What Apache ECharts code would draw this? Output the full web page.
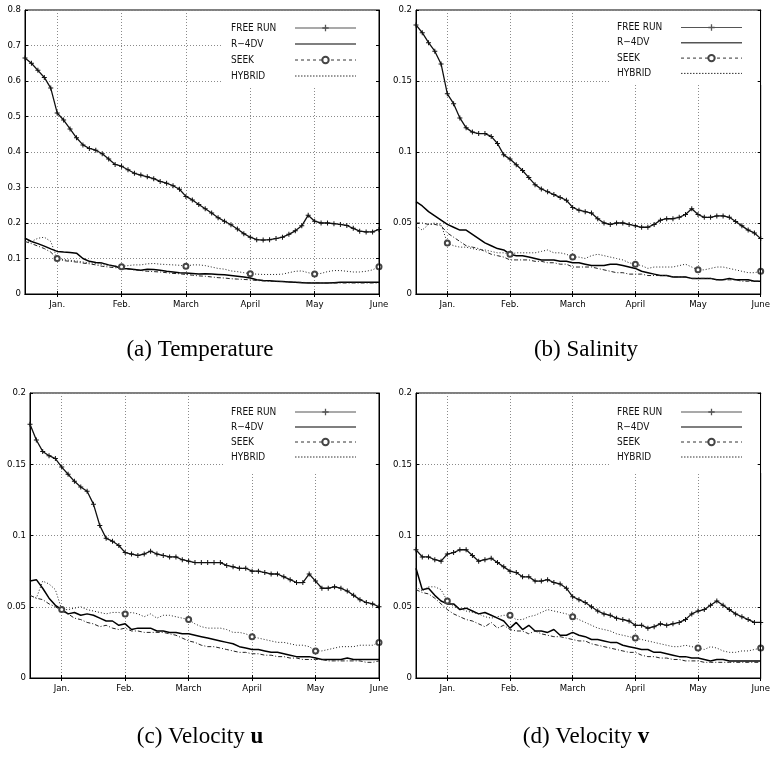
<!DOCTYPE html>
<html>
<head>
<meta charset="utf-8">
<script src="https://cdn.jsdelivr.net/npm/echarts@6/dist/echarts.min.js"></script>
<style>
html, body { margin: 0; padding: 0; background: #fff; }
#main { width: 773px; height: 761px; }
</style>
</head>
<body>
<div id="main"></div>
<script>
// sample positions, in months (1 = Jan. ... 6 = June)
const xs = [0.5, 0.6, 0.7, 0.8, 0.9, 1, 1.1, 1.2, 1.3, 1.4, 1.5, 1.6, 1.7, 1.8, 1.9,
  2, 2.1, 2.2, 2.3, 2.4, 2.5, 2.6, 2.7, 2.8, 2.9, 3, 3.1, 3.2, 3.3, 3.4, 3.5, 3.6, 3.7, 3.8, 3.9,
  4, 4.1, 4.2, 4.3, 4.4, 4.5, 4.6, 4.7, 4.8, 4.9, 5, 5.1, 5.2, 5.3, 5.4, 5.5, 5.6, 5.7, 5.8, 5.9, 6];
const monthTicks = [1, 2, 3, 4, 5, 6];
const monthLabels = ['Jan.', 'Feb.', 'March', 'April', 'May', 'June'];
const seriesNames = ['FREE RUN', 'R\u22124DV', 'SEEK', 'HYBRID'];

// (a) Temperature
const tempFree = [0.665, 0.65, 0.63, 0.61, 0.58, 0.51, 0.49, 0.465, 0.44, 0.42, 0.41, 0.405, 0.395, 0.38, 0.365,
  0.36, 0.35, 0.34, 0.335, 0.33, 0.325, 0.317, 0.312, 0.305, 0.295, 0.275, 0.265, 0.252, 0.24, 0.228, 0.215, 0.205, 0.195, 0.183, 0.17,
  0.16, 0.153, 0.152, 0.153, 0.156, 0.16, 0.168, 0.178, 0.192, 0.222, 0.205, 0.2, 0.2, 0.198, 0.196, 0.193, 0.185, 0.177, 0.175, 0.175, 0.182];
const tempR4dv = [0.157, 0.148, 0.142, 0.135, 0.127, 0.12, 0.118, 0.117, 0.115, 0.1, 0.092, 0.089, 0.087, 0.082, 0.078,
  0.072, 0.071, 0.069, 0.067, 0.07, 0.069, 0.067, 0.064, 0.062, 0.06, 0.059, 0.058, 0.056, 0.057, 0.056, 0.055, 0.054, 0.052, 0.05, 0.048,
  0.045, 0.04, 0.038, 0.037, 0.036, 0.035, 0.034, 0.033, 0.032, 0.031, 0.031, 0.031, 0.031, 0.032, 0.033, 0.033, 0.033, 0.033, 0.033, 0.033, 0.033];
const tempSeek = [0.145, 0.148, 0.157, 0.16, 0.148, 0.1, 0.097, 0.095, 0.093, 0.09, 0.088, 0.086, 0.083, 0.08, 0.079,
  0.077, 0.08, 0.082, 0.082, 0.085, 0.086, 0.084, 0.083, 0.082, 0.081, 0.078, 0.082, 0.082, 0.08, 0.076, 0.072, 0.07, 0.065, 0.063, 0.06,
  0.057, 0.056, 0.055, 0.055, 0.055, 0.056, 0.06, 0.064, 0.065, 0.06, 0.056, 0.058, 0.063, 0.066, 0.066, 0.064, 0.062, 0.062, 0.064, 0.068, 0.077];
const tempHybrid = [0.148, 0.142, 0.135, 0.128, 0.118, 0.1, 0.094, 0.092, 0.09, 0.087, 0.085, 0.082, 0.078, 0.076, 0.074,
  0.072, 0.07, 0.068, 0.066, 0.064, 0.063, 0.062, 0.06, 0.058, 0.057, 0.055, 0.053, 0.051, 0.05, 0.048, 0.046, 0.045, 0.043, 0.042, 0.041,
  0.04, 0.038, 0.037, 0.036, 0.035, 0.035, 0.034, 0.033, 0.033, 0.032, 0.032, 0.031, 0.031, 0.031, 0.031, 0.031, 0.031, 0.031, 0.031, 0.031, 0.031];

// (b) Salinity
const salFree = [0.1895, 0.184, 0.177, 0.171, 0.162, 0.141, 0.134, 0.124, 0.117, 0.114, 0.113, 0.113, 0.111, 0.106, 0.098,
  0.095, 0.091, 0.087, 0.082, 0.077, 0.074, 0.072, 0.07, 0.068, 0.066, 0.061, 0.059, 0.058, 0.057, 0.053, 0.05, 0.049, 0.05, 0.05, 0.049,
  0.048, 0.047, 0.047, 0.049, 0.052, 0.053, 0.053, 0.054, 0.056, 0.06, 0.056, 0.054, 0.054, 0.055, 0.055, 0.054, 0.051, 0.048, 0.045, 0.043, 0.039];
const salR4dv = [0.065, 0.062, 0.058, 0.055, 0.052, 0.049, 0.047, 0.045, 0.045, 0.042, 0.039, 0.036, 0.034, 0.032, 0.031,
  0.028, 0.027, 0.027, 0.026, 0.025, 0.024, 0.024, 0.024, 0.023, 0.023, 0.022, 0.022, 0.021, 0.02, 0.02, 0.02, 0.021, 0.021, 0.02, 0.019,
  0.018, 0.016, 0.015, 0.014, 0.013, 0.013, 0.012, 0.012, 0.012, 0.011, 0.011, 0.011, 0.011, 0.01, 0.01, 0.011, 0.01, 0.01, 0.01, 0.009, 0.009];
const salSeek = [0.048, 0.045, 0.049, 0.05, 0.049, 0.036, 0.034, 0.033, 0.033, 0.032, 0.031, 0.031, 0.03, 0.029, 0.029,
  0.028, 0.029, 0.029, 0.029, 0.029, 0.03, 0.031, 0.029, 0.029, 0.028, 0.026, 0.026, 0.025, 0.027, 0.028, 0.027, 0.026, 0.025, 0.024, 0.022,
  0.021, 0.02, 0.018, 0.019, 0.019, 0.019, 0.019, 0.02, 0.021, 0.019, 0.017, 0.017, 0.018, 0.019, 0.019, 0.018, 0.017, 0.016, 0.015, 0.015, 0.016];
const salHybrid = [0.05, 0.05, 0.049, 0.049, 0.048, 0.043, 0.04, 0.037, 0.034, 0.033, 0.032, 0.03, 0.028, 0.027, 0.026,
  0.024, 0.024, 0.024, 0.024, 0.023, 0.023, 0.022, 0.022, 0.021, 0.021, 0.019, 0.019, 0.019, 0.019, 0.018, 0.017, 0.016, 0.015, 0.015, 0.014,
  0.014, 0.014, 0.013, 0.013, 0.013, 0.013, 0.012, 0.012, 0.012, 0.011, 0.011, 0.011, 0.011, 0.01, 0.01, 0.01, 0.01, 0.009, 0.009, 0.009, 0.009];

// (c) Velocity u
const uFree = [0.178, 0.167, 0.159, 0.156, 0.154, 0.148, 0.143, 0.138, 0.134, 0.131, 0.122, 0.107, 0.098, 0.096, 0.093,
  0.088, 0.087, 0.086, 0.087, 0.089, 0.087, 0.086, 0.085, 0.085, 0.083, 0.082, 0.081, 0.081, 0.081, 0.081, 0.081, 0.079, 0.078, 0.077, 0.077,
  0.075, 0.075, 0.074, 0.073, 0.073, 0.071, 0.069, 0.067, 0.067, 0.073, 0.068, 0.063, 0.063, 0.064, 0.063, 0.061, 0.058, 0.055, 0.053, 0.052, 0.05];
const uR4dv = [0.068, 0.069, 0.063, 0.056, 0.051, 0.048, 0.045, 0.046, 0.044, 0.045, 0.044, 0.042, 0.04, 0.04, 0.037,
  0.038, 0.034, 0.035, 0.035, 0.035, 0.033, 0.033, 0.032, 0.032, 0.031, 0.031, 0.03, 0.029, 0.028, 0.027, 0.026, 0.025, 0.024, 0.022, 0.021,
  0.02, 0.02, 0.019, 0.018, 0.018, 0.017, 0.016, 0.015, 0.015, 0.015, 0.014, 0.013, 0.013, 0.013, 0.013, 0.014, 0.013, 0.013, 0.013, 0.013, 0.013];
const uSeek = [0.058, 0.056, 0.068, 0.066, 0.062, 0.048, 0.048, 0.049, 0.05, 0.048, 0.047, 0.046, 0.045, 0.046, 0.046,
  0.045, 0.046, 0.045, 0.043, 0.045, 0.042, 0.044, 0.044, 0.043, 0.042, 0.041, 0.038, 0.036, 0.035, 0.035, 0.035, 0.034, 0.032, 0.032, 0.031,
  0.029, 0.028, 0.027, 0.026, 0.025, 0.025, 0.024, 0.023, 0.023, 0.022, 0.019, 0.019, 0.02, 0.021, 0.022, 0.022, 0.022, 0.023, 0.023, 0.023, 0.025];
const uHybrid = [0.058, 0.056, 0.055, 0.052, 0.05, 0.047, 0.045, 0.042, 0.041, 0.039, 0.038, 0.036, 0.037, 0.035, 0.034,
  0.035, 0.033, 0.033, 0.032, 0.032, 0.032, 0.032, 0.031, 0.03, 0.028, 0.026, 0.025, 0.023, 0.022, 0.022, 0.021, 0.02, 0.019, 0.018, 0.018,
  0.017, 0.017, 0.016, 0.016, 0.015, 0.015, 0.014, 0.014, 0.013, 0.013, 0.013, 0.013, 0.012, 0.012, 0.012, 0.012, 0.012, 0.012, 0.011, 0.011, 0.012];

// (d) Velocity v
const vFree = [0.09, 0.085, 0.085, 0.083, 0.082, 0.087, 0.088, 0.09, 0.09, 0.086, 0.082, 0.083, 0.084, 0.081, 0.078,
  0.075, 0.074, 0.071, 0.071, 0.068, 0.068, 0.069, 0.067, 0.066, 0.063, 0.057, 0.055, 0.053, 0.05, 0.047, 0.045, 0.044, 0.042, 0.041, 0.04,
  0.037, 0.037, 0.035, 0.036, 0.038, 0.037, 0.038, 0.039, 0.041, 0.045, 0.047, 0.048, 0.051, 0.054, 0.051, 0.048, 0.045, 0.043, 0.041, 0.039, 0.039];
const vR4dv = [0.077, 0.062, 0.063, 0.058, 0.054, 0.052, 0.052, 0.048, 0.049, 0.047, 0.045, 0.046, 0.044, 0.042, 0.04,
  0.035, 0.039, 0.034, 0.037, 0.033, 0.033, 0.032, 0.034, 0.03, 0.03, 0.032, 0.03, 0.029, 0.027, 0.027, 0.026, 0.025, 0.025, 0.023, 0.022,
  0.021, 0.02, 0.02, 0.018, 0.018, 0.017, 0.016, 0.015, 0.015, 0.014, 0.014, 0.013, 0.012, 0.013, 0.013, 0.012, 0.012, 0.012, 0.012, 0.012, 0.012];
const vSeek = [0.064, 0.061, 0.064, 0.064, 0.062, 0.054, 0.05, 0.049, 0.047, 0.046, 0.045, 0.043, 0.042, 0.043, 0.044,
  0.044, 0.041, 0.041, 0.043, 0.044, 0.046, 0.048, 0.047, 0.046, 0.045, 0.043, 0.041, 0.039, 0.037, 0.035, 0.034, 0.033, 0.031, 0.03, 0.029,
  0.028, 0.027, 0.026, 0.025, 0.024, 0.023, 0.022, 0.022, 0.023, 0.022, 0.021, 0.02, 0.022, 0.021, 0.019, 0.018, 0.018, 0.019, 0.019, 0.02, 0.021];
const vHybrid = [0.062, 0.06, 0.059, 0.056, 0.052, 0.048, 0.045, 0.043, 0.041, 0.04, 0.038, 0.036, 0.039, 0.035, 0.037,
  0.034, 0.033, 0.033, 0.031, 0.033, 0.031, 0.03, 0.029, 0.029, 0.028, 0.027, 0.026, 0.026, 0.024, 0.023, 0.022, 0.021, 0.02, 0.019, 0.018,
  0.018, 0.016, 0.015, 0.015, 0.014, 0.014, 0.013, 0.013, 0.012, 0.012, 0.012, 0.011, 0.011, 0.011, 0.011, 0.011, 0.011, 0.011, 0.011, 0.011, 0.011];

const axisFont = "'Liberation Sans Narrow', 'DejaVu Sans Condensed', 'Liberation Sans', sans-serif";
const capFont = "'Liberation Serif', 'DejaVu Serif', serif";
const crossPath = 'path://M4,0h2v10h-2zM0,4h10v2h-10z';

const panels = [
  { caption: '(a) Temperature', capX: 200, capY: 350, yMax: 0.8, yStep: 0.1,
    grid: { left: 25, top: 10, width: 354, height: 284 },
    legend: { left: 223, top: 11, padding: [12, 19, 6, 8], gap: 6 },
    data: [tempFree, tempR4dv, tempSeek, tempHybrid] },
  { caption: '(b) Salinity', capX: 586, capY: 350, yMax: 0.2, yStep: 0.05,
    grid: { left: 416, top: 10, width: 350, height: 284 },
    legend: { left: 609, top: 11, padding: [11.5, 19, 6.5, 8], gap: 5.3 },
    data: [salFree, salR4dv, salSeek, salHybrid] },
  { caption: '(c) Velocity {b|u}', capX: 200, capY: 737, yMax: 0.2, yStep: 0.05,
    grid: { left: 30, top: 393, width: 349, height: 285 },
    legend: { left: 223, top: 394, padding: [13, 19, 11, 8], gap: 5 },
    data: [uFree, uR4dv, uSeek, uHybrid] },
  { caption: '(d) Velocity {b|v}', capX: 586, capY: 737, yMax: 0.2, yStep: 0.05,
    grid: { left: 416, top: 393, width: 350, height: 285 },
    legend: { left: 609, top: 394, padding: [13, 19, 11, 8], gap: 5 },
    data: [vFree, vR4dv, vSeek, vHybrid] }
];

const grids = [], xAxes = [], yAxes = [], legends = [], series = [], texts = [];
const dotted = { color: '#8a8a8a', width: 1, type: [1, 2] };

panels.forEach(function (p, i) {
  // grid frame drawn by the grid itself
  grids.push(Object.assign({ show: true, borderColor: '#000', borderWidth: 1, backgroundColor: 'transparent' }, p.grid));
  xAxes.push({
    type: 'value', gridIndex: i, min: 0.5, max: 6, position: 'bottom',
    axisLine: { lineStyle: { color: '#000', width: 1 } },
    axisTick: { inside: true, length: 3, customValues: monthTicks, lineStyle: { color: '#000' } },
    axisLabel: { customValues: monthTicks, margin: 6, fontFamily: axisFont, fontSize: 9.5, color: '#000',
      formatter: function (v) { return monthLabels[Math.round(v) - 1]; } },
    splitLine: { show: true, lineStyle: dotted }
  });
  xAxes.push({
    type: 'value', gridIndex: i, min: 0.5, max: 6, position: 'top', z: 10,
    axisLine: { lineStyle: { color: '#000', width: 1 } },
    axisTick: { inside: true, length: 3, customValues: monthTicks, lineStyle: { color: '#000' } },
    axisLabel: { show: false }, splitLine: { show: false }
  });
  yAxes.push({
    type: 'value', gridIndex: i, min: 0, max: p.yMax, interval: p.yStep, position: 'left',
    axisLine: { show: true, lineStyle: { color: '#000', width: 1 } },
    axisTick: { show: true, inside: true, length: 3, lineStyle: { color: '#000' } },
    axisLabel: { margin: 4, fontFamily: axisFont, fontSize: 9.5, color: '#000' },
    splitLine: { show: true, lineStyle: dotted }
  });
  yAxes.push({
    type: 'value', gridIndex: i, min: 0, max: p.yMax, interval: p.yStep, position: 'right', z: 10,
    axisLine: { show: true, onZero: false, lineStyle: { color: '#000', width: 1 } },
    axisTick: { show: true, inside: true, length: 3, lineStyle: { color: '#000' } },
    axisLabel: { show: false }, splitLine: { show: false }
  });

  legends.push({
    left: p.legend.left, top: p.legend.top, padding: p.legend.padding,
    orient: 'vertical', align: 'right', itemWidth: 61, itemHeight: 8, itemGap: p.legend.gap,
    backgroundColor: '#fff', selectedMode: false,
    formatter: '{n|{name}}',
    textStyle: { fontFamily: axisFont, fontSize: 10, color: '#111',
      rich: { n: { width: 59, align: 'left', fontFamily: axisFont, fontSize: 10, color: '#111' } } },
    data: [
      { name: seriesNames[0], lineStyle: { color: '#555', width: 1.2 }, itemStyle: { color: '#555' } },
      { name: seriesNames[1], lineStyle: { color: '#555', width: 1.4 }, itemStyle: { opacity: 0 } },
      { name: seriesNames[2], lineStyle: { color: '#333', width: 1, type: [3, 3] }, itemStyle: { color: '#444' } },
      { name: seriesNames[3], lineStyle: { color: '#333', width: 1, type: [1.5, 1.5] }, itemStyle: { opacity: 0 } }
    ]
  });

  const ax = { xAxisIndex: 2 * i, yAxisIndex: 2 * i, type: 'line', animation: false, silent: true };
  series.push(Object.assign({}, ax, {
    name: seriesNames[0], symbol: crossPath, symbolSize: 5, showAllSymbol: true,
    lineStyle: { color: '#111', width: 1.3 }, itemStyle: { color: '#111' },
    data: xs.map(function (x, k) { return [x, p.data[0][k]]; })
  }));
  series.push(Object.assign({}, ax, {
    name: seriesNames[1], symbol: 'none',
    lineStyle: { color: '#000', width: 1.5 }, itemStyle: { color: '#000' },
    data: xs.map(function (x, k) { return [x, p.data[1][k]]; })
  }));
  series.push(Object.assign({}, ax, {
    name: seriesNames[2], symbol: 'emptyCircle', symbolSize: 5, showAllSymbol: true,
    lineStyle: { color: '#222', width: 1, type: [1, 2] }, itemStyle: { color: '#444', borderWidth: 1.2 },
    data: xs.map(function (x, k) {
      const pt = [x, p.data[2][k]];
      return monthTicks.indexOf(x) >= 0 ? pt : { value: pt, symbol: 'none' };
    })
  }));
  series.push(Object.assign({}, ax, {
    name: seriesNames[3], symbol: 'none',
    lineStyle: { color: '#222', width: 1, type: [4, 2, 1, 2] }, itemStyle: { color: '#222' },
    data: xs.map(function (x, k) { return [x, p.data[3][k]]; })
  }));

  texts.push({
    type: 'text', x: p.capX, y: p.capY,
    style: { text: p.caption, align: 'center', verticalAlign: 'middle',
      fontFamily: capFont, fontSize: 23, fill: '#000',
      rich: { b: { fontFamily: capFont, fontSize: 23, fontWeight: 'bold', fill: '#000' } } }
  });
});

const chart = echarts.init(document.getElementById('main'), null, { renderer: 'canvas' });
chart.setOption({
  backgroundColor: '#fff',
  animation: false,
  grid: grids,
  xAxis: xAxes,
  yAxis: yAxes,
  legend: legends,
  series: series,
  graphic: texts
});
</script>
</body>
</html>
